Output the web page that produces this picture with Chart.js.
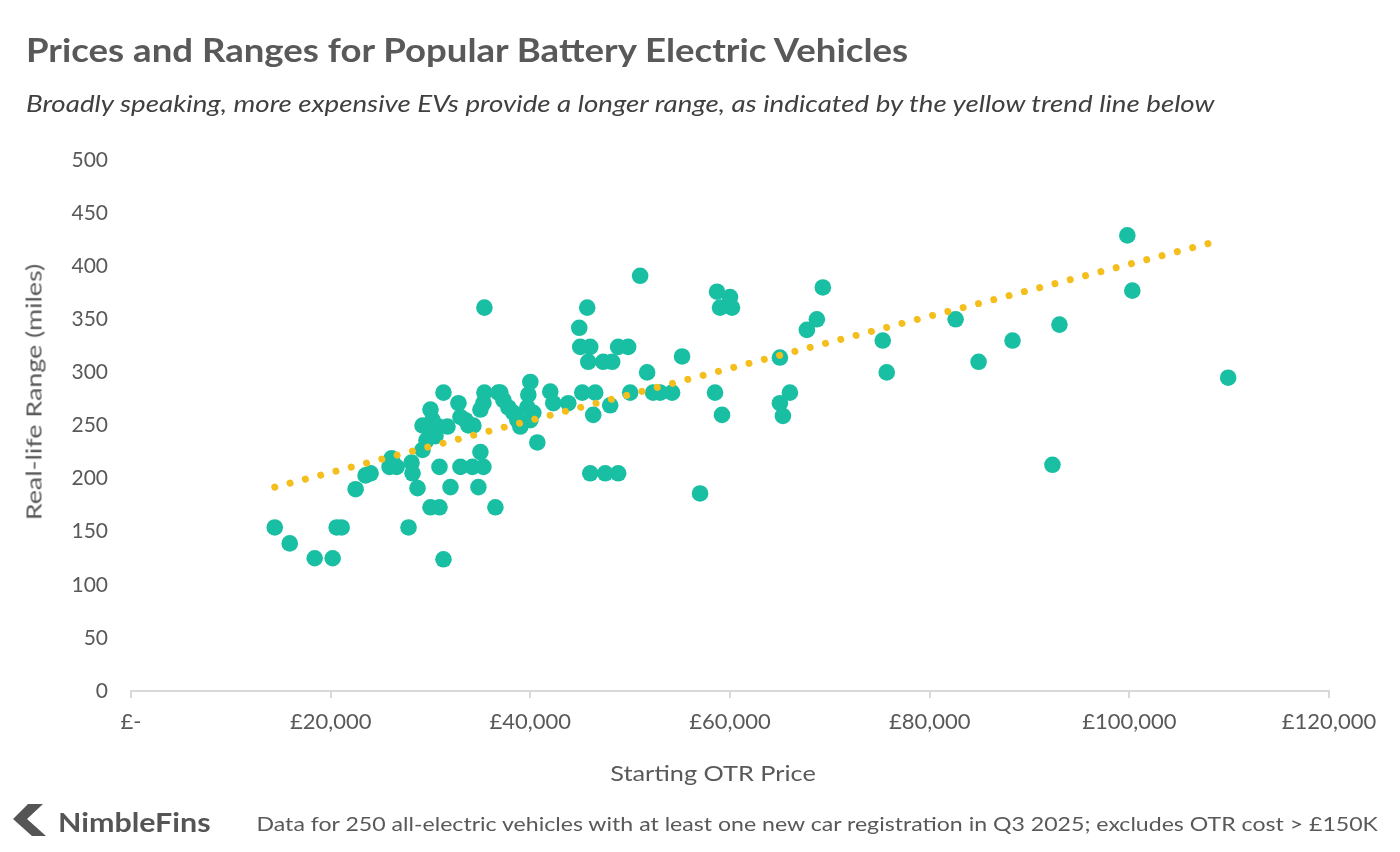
<!DOCTYPE html>
<html>
<head>
<meta charset="utf-8">
<script src="https://cdn.jsdelivr.net/npm/chart.js@4.4.0/dist/chart.umd.min.js"></script>
<style>
  html, body { margin: 0; padding: 0; background: #ffffff; }
  #wrap { position: relative; width: 1400px; height: 852px; overflow: hidden; font-family: Lato, "Open Sans", sans-serif; }
  #c { position: absolute; left: 0; top: 0; }
  .t { position: absolute; white-space: nowrap; }
  #title { left: 26px; top: 30px; font-size: 32px; font-weight: 700; color: #595959; transform: scaleX(1.143); transform-origin: left center; }
  #subtitle { left: 26px; top: 89px; font-size: 23px; font-style: italic; color: #404040; transform: scaleX(1.205); transform-origin: left center; }
  #ytitle { left: 33px; top: 392px; font-size: 22px; color: #595959; transform: translate(-50%, -50%) rotate(-90deg) scaleX(1.22); }
  #xtitle { left: 713px; top: 772px; font-size: 22px; color: #595959; transform: translate(-50%, -50%) scaleX(1.15); }
  #note { right: 22px; top: 811px; font-size: 20px; color: #595959; transform: scaleX(1.155); transform-origin: right center; }
  #brand { left: 58px; top: 806px; font-size: 26px; font-weight: 700; color: #555555; transform: scaleX(1.17); transform-origin: left center; }
  #logo { position: absolute; left: 13px; top: 803px; }
</style>
</head>
<body>
<div id="wrap">
  <canvas id="c" width="1400" height="852"></canvas>
  <div class="t" id="title">Prices and Ranges for Popular Battery Electric Vehicles</div>
  <div class="t" id="subtitle">Broadly speaking, more expensive EVs provide a longer range, as indicated by the yellow trend line below</div>
  <div class="t" id="ytitle">Real-life Range (miles)</div>
  <div class="t" id="xtitle">Starting OTR Price</div>
  <svg id="logo" width="36" height="34" viewBox="0 0 36 34"><polygon points="0,16 15,1 30,1 14,16 33,33 19,33" fill="#555555"/></svg>
  <div class="t" id="brand">NimbleFins</div>
  <div class="t" id="note">Data for 250 all-electric vehicles with at least one new car registration in Q3 2025; excludes OTR cost &gt; £150K</div>
</div>
<script>
// Starting OTR price (£) and real-life range (miles)
const prices = [
  14400, 15900, 18400, 20200, 20600, 21100, 22500, 23500, 24000, 26100,
  25900, 26600, 28100, 28200, 28700, 27800, 29200, 29600, 29200, 29600,
  30000, 30200, 30800, 31700, 31300, 30900, 32000, 30000, 30900, 31300,
  32800, 33000, 33500, 33800, 34300, 33000, 34200, 35300, 35000, 34800,
  36500, 35000, 35300, 35400, 35400, 36800, 37300, 37800, 38300, 38700,
  39000, 40000, 39800, 39700, 40300, 40000, 42000, 42300, 40700, 51000,
  45700, 44900, 45000, 46000, 45800, 47300, 48200, 48800, 49800, 55200,
  51700, 43800, 45200, 46500, 46300, 48000, 50000, 52300, 53000, 54200,
  58500, 59200, 58700, 60000, 59000, 60200, 46000, 47500, 48800, 57000,
  69300, 68700, 67700, 65000, 66000, 65000, 65300, 75300, 75700, 82600,
  84900, 88300, 99800, 100300, 93000, 92300, 109900, 37000, 30500
];
const ranges = [
  154, 139, 125, 125, 154, 154, 190, 203, 205, 219,
  211, 211, 215, 205, 191, 154, 227, 236, 250, 249,
  265, 255, 249, 249, 281, 211, 192, 173, 173, 124,
  271, 258, 255, 250, 250, 211, 211, 211, 225, 192,
  173, 265, 271, 281, 361, 281, 274, 267, 262, 255,
  249, 291, 279, 267, 262, 255, 282, 271, 234, 391,
  361, 342, 324, 324, 310, 310, 310, 324, 324, 315,
  300, 271, 281, 281, 260, 269, 281, 281, 281, 281,
  281, 260, 376, 371, 361, 361, 205, 205, 205, 186,
  380, 350, 340, 314, 281, 271, 259, 330, 300, 350,
  310, 330, 429, 377, 345, 213, 295, 281, 240
];
// Trend line end points
const trendPrices = [14400, 108600];
const trendRanges = [192, 423];
// Axis ticks
const xTicks = [0, 20000, 40000, 60000, 80000, 100000, 120000];
const yTicks = [0, 50, 100, 150, 200, 250, 300, 350, 400, 450, 500];

const points = prices.map((p, i) => ({ x: p, y: ranges[i] }));
const trend = trendPrices.map((p, i) => ({ x: p, y: trendRanges[i] }));

Chart.defaults.font.family = 'Lato, "Open Sans", sans-serif';
Chart.defaults.color = '#595959';

new Chart(document.getElementById('c'), {
  type: 'scatter',
  data: {
    datasets: [
      {
        type: 'line',
        data: trend,
        borderColor: '#F4BE1C',
        borderWidth: 7,
        borderDash: [0.01, 15.8],
        borderCapStyle: 'round',
        pointRadius: 0,
        fill: false,
        order: 0
      },
      {
        data: points,
        backgroundColor: '#19BFA2',
        borderColor: '#19BFA2',
        borderWidth: 0,
        pointRadius: 8.3,
        order: 1
      }
    ]
  },
  options: {
    responsive: false,
    animation: false,
    events: [],
    layout: { padding: { left: 0, top: 160, right: 71, bottom: 0 } },
    plugins: { legend: { display: false }, tooltip: { enabled: false } },
    scales: {
      x: {
        type: 'linear',
        min: xTicks[0],
        max: xTicks[xTicks.length - 1],
        afterBuildTicks: (s) => { s.ticks = xTicks.map(v => ({ value: v })); },
        afterFit: (s) => { s.height = 161; },
        grid: { display: true, drawOnChartArea: false, drawTicks: true, tickLength: 7, color: '#d9d9d9', lineWidth: 2 },
        border: { display: true, color: '#d9d9d9', width: 2 },
        ticks: {
          padding: 11,
          maxRotation: 0,
          font: { size: 22 },
          color: '#595959',
          callback: (v) => v === 0 ? '£-' : '£' + Number(v).toLocaleString('en-GB')
        }
      },
      y: {
        type: 'linear',
        min: yTicks[0],
        max: yTicks[yTicks.length - 1],
        afterBuildTicks: (s) => { s.ticks = yTicks.map(v => ({ value: v })); },
        afterFit: (s) => { s.width = 131; },
        grid: { display: false, drawTicks: false },
        border: { display: false },
        ticks: { padding: 23, font: { size: 21 }, color: '#595959' }
      }
    }
  }
});
</script>
</body>
</html>
